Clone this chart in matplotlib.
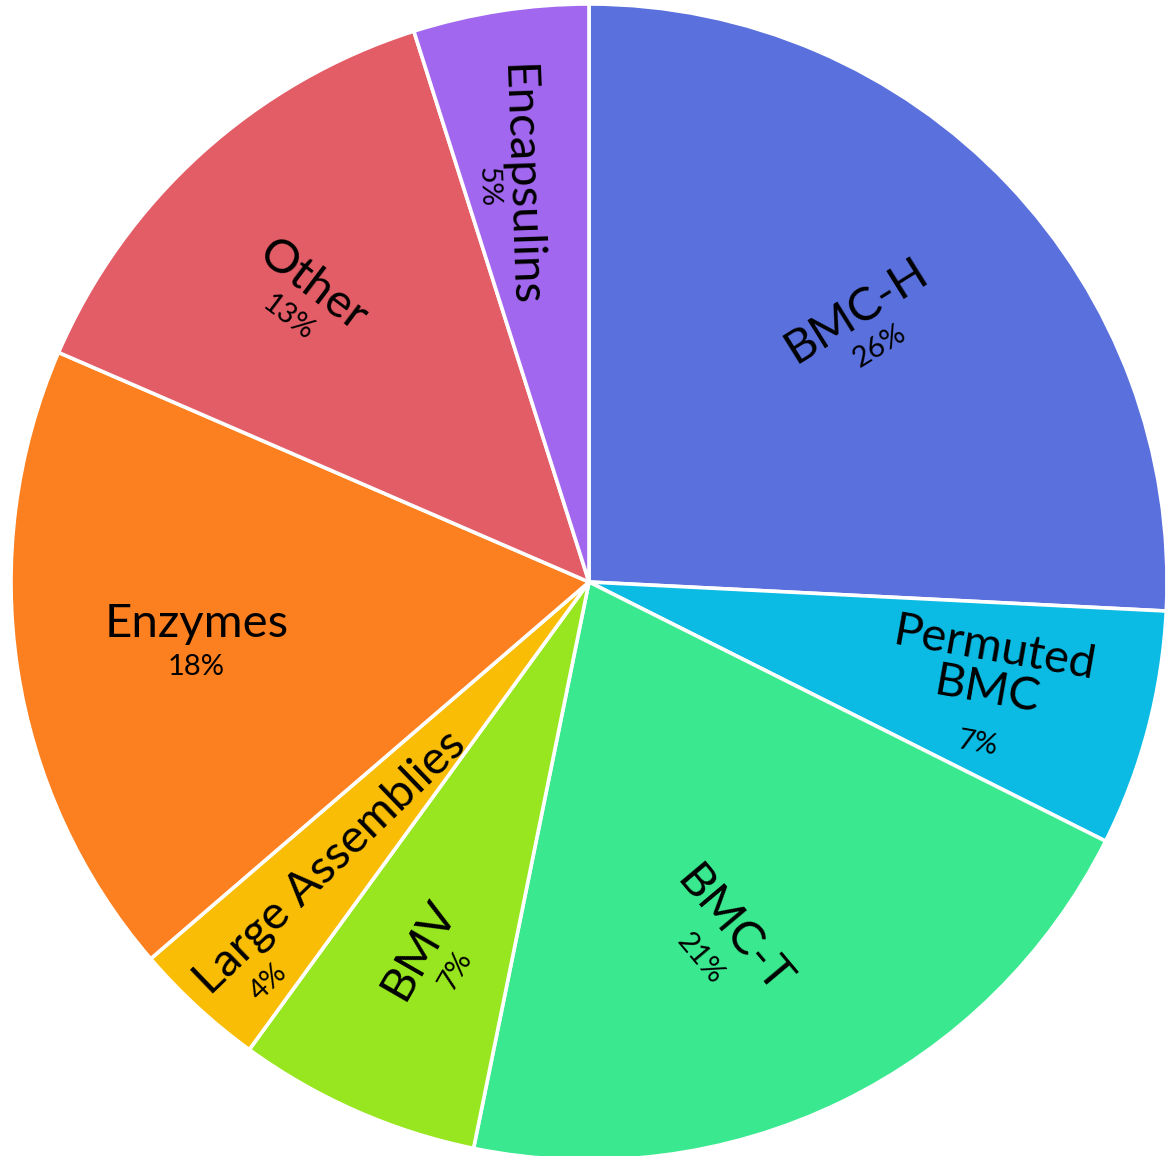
import numpy as np
import matplotlib
matplotlib.use("Agg")
import matplotlib.pyplot as plt

# slice data, clockwise from 12 o'clock
categories = ['BMC-H', 'Permuted\nBMC', 'BMC-T', 'BMV', 'Large Assemblies',
              'Enzymes', 'Other', 'Encapsulins']
shares = [25.8, 6.6, 20.8, 6.8, 3.7, 17.8, 13.6, 4.9]
pct_labels = ['26%', '7%', '21%', '7%', '4%', '18%', '13%', '5%']
colors = ['#5A70DC', '#0BBBE4', '#3AE98F', '#98E620', '#F9BD05',
          '#FC801F', '#E35D67', '#A267EF']

# label placement: radius fraction, angle offset from wedge middle, text rotation
label_r = [0.654, 0.713, 0.663, 0.703, 0.663, 0.687, 0.697, 0.70]
label_dang = [-0.7, 0, -6, 1.3, 2.6, 0, 3.3, 3.5]
label_rot = [32, -10, -50, 60, 44, 0, -37, -88]
# gap between name and percentage, and sideways shift of the percentage
pct_gap = [0.074, 0.074, 0.074, 0.074, 0.074, 0.074, 0.070, 0.055]
pct_shift = [0, 0, 0, 0, -0.22, 0, 0, 0]

plt.rcParams['font.family'] = ['Lato', 'DejaVu Sans']

fig = plt.figure(figsize=(11.72, 11.56), dpi=100)
ax = fig.add_axes([0, 0, 1, 1])

wedges, _ = ax.pie(shares, colors=colors, startangle=90, counterclock=False,
                   radius=1.0, center=(0, 0),
                   wedgeprops=dict(edgecolor='white', linewidth=2.6))

for i, w in enumerate(wedges):
    name = categories[i]
    rot = label_rot[i]
    mid = np.deg2rad((w.theta1 + w.theta2) / 2 + label_dang[i])
    cx, cy = label_r[i] * np.cos(mid), label_r[i] * np.sin(mid)
    t = np.deg2rad(rot)
    ux, uy = -np.sin(t), np.cos(t)   # "up" in the rotated text frame
    ax_, ay_ = np.cos(t), np.sin(t)  # along the text
    nlines = name.count('\n') + 1
    down = pct_gap[i] + 0.055 * (nlines - 1)
    nx, ny = cx + ux * 0.03, cy + uy * 0.03
    px = nx - ux * down + ax_ * pct_shift[i]
    py = ny - uy * down + ay_ * pct_shift[i]
    ax.text(nx, ny, name, ha='center', va='center', rotation=rot,
            rotation_mode='anchor', fontsize=34, color='black',
            multialignment='center', linespacing=1.0)
    ax.text(px, py, pct_labels[i], ha='center', va='center', rotation=rot,
            rotation_mode='anchor', fontsize=21, color='black')

# pie radius 578 px, centre at (589, 582) px from top-left
R = 578.0
ax.set_xlim(-589 / R, (1172 - 589) / R)
ax.set_ylim(-(1156 - 582) / R, 582 / R)
ax.set_aspect('equal')
ax.axis('off')

fig.savefig('out.png', dpi=100, facecolor='white')
